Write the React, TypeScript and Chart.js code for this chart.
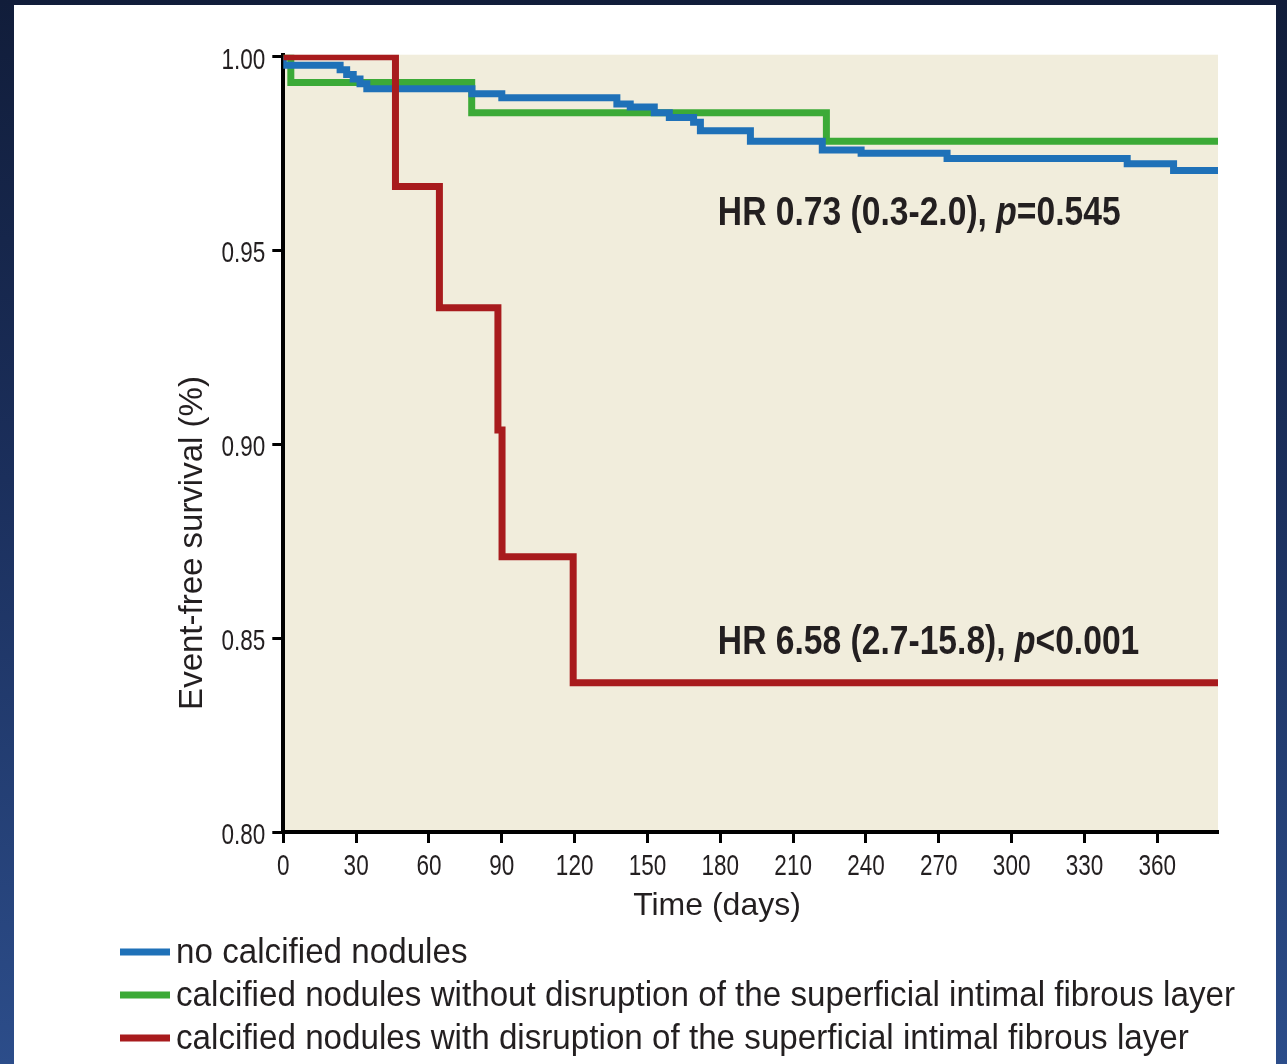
import React, { useEffect, useRef } from 'react';
import { Chart, registerables } from 'chart.js';

Chart.register(...registerables);

// ---- Data (days, event-free survival) ----
const xTickValues = [0, 30, 60, 90, 120, 150, 180, 210, 240, 270, 300, 330, 360];
const yTickValues = [0.8, 0.85, 0.9, 0.95, 1.0];

const seriesLabels = [
  'no calcified nodules',
  'calcified nodules without disruption of the superficial intimal fibrous layer',
  'calcified nodules with disruption of the superficial intimal fibrous layer',
];
const seriesColors = ['#1f71b8', '#3caa37', '#a81b1d'];

const noCnDays = [0, 0, 23.4, 26.1, 28.8, 31.6, 34.4, 77.7, 90, 137.4, 142.9, 152.8, 159, 169, 171.8, 192.4, 222, 238, 273.4, 347.6, 366.7, 385];
const noCnSurv = [1.0, 0.9978, 0.9966, 0.9954, 0.9942, 0.993, 0.9917, 0.9904, 0.9894, 0.9878, 0.987, 0.9855, 0.9843, 0.9831, 0.9809, 0.9782, 0.9759, 0.9751, 0.9737, 0.9724, 0.9706, 0.9706];

const cnIntactDays = [0, 3.1, 77.6, 223.7, 385];
const cnIntactSurv = [1.0, 0.9933, 0.9855, 0.9782, 0.9782];

const cnDisruptDays = [0, 46.2, 64.3, 88.4, 90.1, 119.4, 385];
const cnDisruptSurv = [1.0, 0.9665, 0.9352, 0.9037, 0.871, 0.8385, 0.8385];

const annotationTexts = [
  { parts: [['HR 0.73 (0.3-2.0), ', false], ['p', true], ['=0.545', false]], day: 179, surv: 0.9566 },
  { parts: [['HR 6.58 (2.7-15.8), ', false], ['p', true], ['<0.001', false]], day: 179, surv: 0.846 },
];

const xTitle = 'Time (days)';
const yTitle = 'Event-free survival (%)';

const FONT_REG = "'Liberation Sans', Arial, sans-serif";
const TEXT = '#231f20';
const NARROW = 0.75; // horizontal compression for the condensed tick labels

const toPoints = (days: number[], surv: number[]) => days.map((d, i) => ({ x: d, y: surv[i] }));

function narrowText(ctx: CanvasRenderingContext2D, text: string, x: number, y: number, align: 'left' | 'center' | 'right', k: number) {
  const w = ctx.measureText(text).width * k;
  let left = x;
  if (align === 'center') left = x - w / 2;
  else if (align === 'right') left = x - w;
  ctx.save();
  ctx.translate(left, y);
  ctx.scale(k, 1);
  ctx.textAlign = 'left';
  ctx.fillText(text, 0, 0);
  ctx.restore();
  return w;
}

const decorPlugin = {
  id: 'decor',
  beforeDraw(chart: any) {
    const { ctx, chartArea: a } = chart;
    ctx.save();
    ctx.fillStyle = '#ffffff';
    ctx.fillRect(0, 0, chart.width, chart.height);
    ctx.fillStyle = '#f1eddc';
    ctx.fillRect(a.left, a.top, a.right - a.left, a.bottom - a.top);
    ctx.restore();
  },
  afterDraw(chart: any) {
    const ctx = chart.ctx as CanvasRenderingContext2D;
    const xs = chart.scales.x;
    const ys = chart.scales.y;
    ctx.save();
    ctx.fillStyle = TEXT;
    ctx.textBaseline = 'alphabetic';

    // tick labels (condensed look), positioned by the library's scales
    ctx.font = `30px ${FONT_REG}`;
    xs.ticks.forEach((t: any) => {
      const label = t.label != null ? String(t.label) : String(t.value);
      narrowText(ctx, label, xs.getPixelForValue(t.value), xs.top + 42.5, 'center', NARROW);
    });
    ys.ticks.forEach((t: any) => {
      const label = t.label != null ? String(t.label) : Number(t.value).toFixed(2);
      narrowText(ctx, label, ys.right - 18, ys.getPixelForValue(t.value) + 12, 'right', NARROW);
    });

    // annotations
    annotationTexts.forEach((an) => {
      let x = xs.getPixelForValue(an.day);
      const y = ys.getPixelForValue(an.surv);
      an.parts.forEach(([t, italic]) => {
        ctx.font = `${italic ? 'italic ' : ''}bold 41px ${FONT_REG}`;
        x += narrowText(ctx, t as string, x, y, 'left', 0.82);
      });
    });

    // x title
    ctx.font = `32px ${FONT_REG}`;
    narrowText(ctx, xTitle, 703, 910, 'center', 1);

    // y title
    ctx.save();
    ctx.translate(179, 538);
    ctx.rotate(-Math.PI / 2);
    ctx.font = `33px ${FONT_REG}`;
    ctx.textAlign = 'center';
    ctx.textBaseline = 'middle';
    ctx.fillText(yTitle, 0, 0);
    ctx.restore();

    // legend
    ctx.font = `35.5px ${FONT_REG}`;
    chart.data.datasets.forEach((ds: any, i: number) => {
      const cy = 947 + i * 43;
      ctx.fillStyle = ds.borderColor;
      ctx.fillRect(106, cy - 3.5, 50, 7);
      ctx.fillStyle = TEXT;
      narrowText(ctx, ds.label, 162, cy + 11, 'left', 0.935);
    });
    ctx.restore();
  },
};

export default function App() {
  const ref = useRef<HTMLCanvasElement>(null);
  useEffect(() => {
    if (!ref.current) return;
    const chart = new Chart(ref.current, {
      type: 'line',
      data: {
        datasets: [
          { label: seriesLabels[0], data: toPoints(noCnDays, noCnSurv), borderColor: seriesColors[0], backgroundColor: seriesColors[0], order: 1 },
          { label: seriesLabels[1], data: toPoints(cnIntactDays, cnIntactSurv), borderColor: seriesColors[1], backgroundColor: seriesColors[1], order: 2 },
          { label: seriesLabels[2], data: toPoints(cnDisruptDays, cnDisruptSurv), borderColor: seriesColors[2], backgroundColor: seriesColors[2], order: 0 },
        ].map((d) => ({
          ...d,
          borderWidth: 7,
          stepped: 'before' as const,
          pointRadius: 0,
          pointHoverRadius: 0,
          fill: false,
          tension: 0,
          borderJoinStyle: 'miter' as const,
          borderCapStyle: 'butt' as const,
        })),
      },
      options: {
        animation: false,
        responsive: false,
        devicePixelRatio: 1,
        events: [],
        layout: { padding: { left: 0, top: 49.7, right: 58, bottom: 172 } },
        plugins: { legend: { display: false }, tooltip: { enabled: false } },
        scales: {
          x: {
            type: 'linear',
            min: 0,
            max: 385,
            afterBuildTicks: (s: any) => { s.ticks = xTickValues.map((v) => ({ value: v })); },
            afterFit: (s: any) => { s.height = 60; },
            ticks: {
              display: false,
              font: { family: FONT_REG, size: 30 },
              color: TEXT,
              maxRotation: 0,
              autoSkip: false,
              callback: (v: any) => String(v),
            },
            grid: { drawOnChartArea: false, drawTicks: true, tickLength: 11, tickWidth: 3, tickColor: '#000' },
            border: { display: true, color: '#000', width: 4 },
          },
          y: {
            type: 'linear',
            min: 0.8,
            max: 1.0005,
            afterBuildTicks: (s: any) => { s.ticks = yTickValues.map((v) => ({ value: v })); },
            afterFit: (s: any) => { s.width = 269.3; },
            ticks: {
              display: false,
              font: { family: FONT_REG, size: 30 },
              color: TEXT,
              autoSkip: false,
              callback: (v: any) => Number(v).toFixed(2),
            },
            grid: { drawOnChartArea: false, drawTicks: true, tickLength: 11, tickWidth: 3, tickColor: '#000' },
            border: { display: true, color: '#000', width: 4 },
          },
        },
      },
      plugins: [decorPlugin],
    } as any);
    return () => chart.destroy();
  }, []);

  return (
    <div
      style={{
        position: 'absolute',
        left: 0,
        top: 0,
        width: 1287,
        height: 1064,
        overflow: 'hidden',
        background: 'linear-gradient(180deg, #111d3a 0%, #1b2f5c 45%, #2c4d8a 100%)',
      }}
    >
      <div style={{ position: 'absolute', left: 14, top: 5, width: 1262, height: 1059, background: '#ffffff' }}>
        <canvas ref={ref} width={1262} height={1059} style={{ display: 'block', width: 1262, height: 1059 }} />
      </div>
    </div>
  );
}
